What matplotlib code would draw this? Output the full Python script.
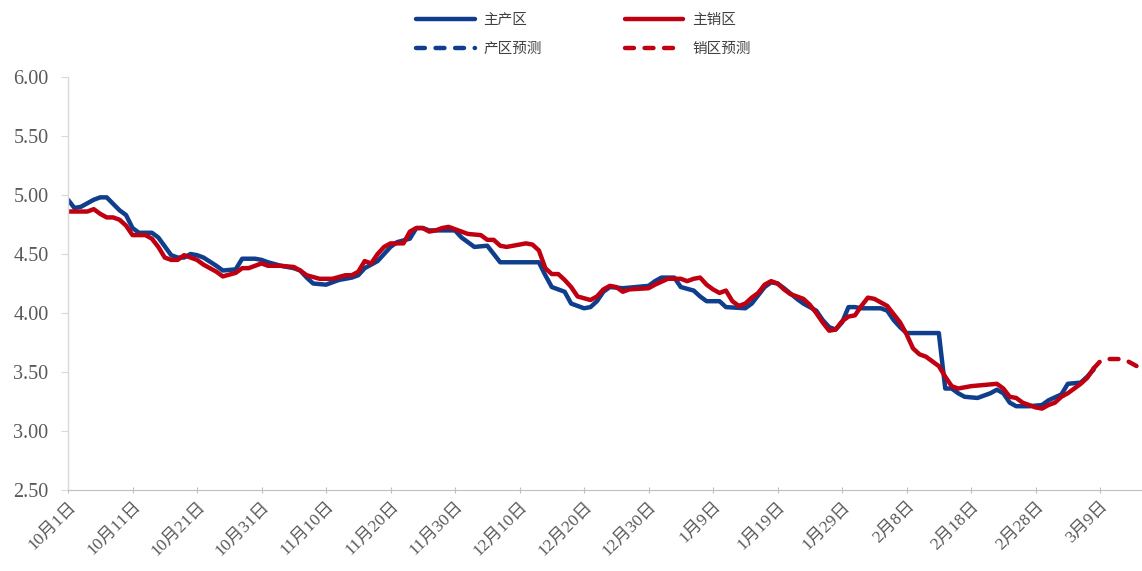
import matplotlib
matplotlib.use("Agg")
import matplotlib.pyplot as plt
import pandas as pd
import numpy as np

plt.rcParams['font.family'] = ['Liberation Serif', 'Noto Sans CJK SC', 'DejaVu Sans']

start = pd.Timestamp("2023-10-01")

# 主产区 (day offset from 2023-10-01, price)
prod_days = [0, 1, 2, 4, 5, 6, 8, 9, 10, 11, 13, 14, 16, 17, 18, 19, 20, 21, 23, 24,
             26, 27, 29, 30, 31, 33, 35, 36, 37, 38, 40, 42, 44, 45, 46, 48, 49, 50, 51, 53,
             54, 55, 56, 60, 61, 62, 63, 65, 66, 67, 73, 74, 75, 77, 78, 80, 81, 82, 83, 84,
             86, 90, 91, 92, 94, 95, 97, 98, 99, 101, 102, 105, 106, 107, 108, 109, 110, 111, 113, 114,
             116, 117, 118, 119, 120, 121, 122, 123, 126, 127, 128, 129, 130, 135, 136, 137, 138, 139, 141, 143,
             144, 145, 146, 147, 149, 151, 152, 154, 155, 157, 158, 159]
prod_vals = [4.96, 4.89, 4.90, 4.96, 4.98, 4.98, 4.87, 4.83, 4.72, 4.68, 4.68, 4.64, 4.49, 4.47, 4.47, 4.50, 4.49, 4.47, 4.40, 4.36,
             4.37, 4.46, 4.46, 4.45, 4.43, 4.40, 4.38, 4.36, 4.30, 4.25, 4.24, 4.28, 4.30, 4.32, 4.38, 4.44, 4.50, 4.56, 4.60, 4.63,
             4.72, 4.72, 4.70, 4.70, 4.64, 4.60, 4.56, 4.57, 4.50, 4.43, 4.43, 4.32, 4.22, 4.18, 4.08, 4.04, 4.05, 4.10, 4.18, 4.22,
             4.21, 4.23, 4.27, 4.30, 4.30, 4.22, 4.19, 4.14, 4.10, 4.10, 4.05, 4.04, 4.08, 4.15, 4.22, 4.26, 4.25, 4.21, 4.12, 4.08,
             4.02, 3.94, 3.88, 3.86, 3.92, 4.05, 4.05, 4.04, 4.04, 4.02, 3.94, 3.88, 3.83, 3.83, 3.36, 3.36, 3.32, 3.29, 3.28, 3.32,
             3.35, 3.32, 3.24, 3.21, 3.21, 3.22, 3.26, 3.31, 3.40, 3.41, 3.46, 3.52]

# 主销区
cons_days = [0, 3, 4, 5, 6, 7, 8, 9, 10, 12, 13, 14, 15, 16, 17, 18, 19, 20, 21, 23,
             24, 26, 27, 28, 29, 30, 31, 33, 35, 36, 37, 39, 41, 43, 44, 45, 46, 47, 48, 49,
             50, 52, 53, 54, 55, 56, 57, 58, 59, 60, 62, 64, 65, 66, 67, 68, 69, 71, 72, 73,
             74, 75, 76, 77, 78, 79, 81, 82, 83, 84, 85, 86, 87, 90, 91, 93, 95, 96, 97, 98,
             99, 100, 101, 102, 103, 104, 105, 106, 107, 108, 109, 110, 111, 112, 114, 115, 116, 117, 118, 119,
             120, 121, 122, 123, 124, 125, 126, 127, 128, 129, 130, 131, 132, 133, 134, 135, 136, 137, 138, 140,
             142, 144, 145, 146, 147, 148, 150, 151, 152, 153, 154, 155, 156, 157, 158, 159]
cons_vals = [4.86, 4.86, 4.88, 4.84, 4.81, 4.81, 4.79, 4.74, 4.66, 4.66, 4.63, 4.56, 4.47, 4.45, 4.45, 4.49, 4.47, 4.45, 4.41, 4.35,
             4.31, 4.34, 4.38, 4.38, 4.40, 4.42, 4.40, 4.40, 4.39, 4.36, 4.32, 4.29, 4.29, 4.32, 4.32, 4.35, 4.44, 4.42, 4.50, 4.56,
             4.59, 4.59, 4.69, 4.72, 4.72, 4.69, 4.70, 4.72, 4.73, 4.71, 4.67, 4.66, 4.62, 4.62, 4.57, 4.56, 4.57, 4.59, 4.58, 4.53,
             4.38, 4.33, 4.33, 4.28, 4.22, 4.14, 4.11, 4.14, 4.20, 4.23, 4.22, 4.18, 4.20, 4.21, 4.24, 4.29, 4.29, 4.27, 4.29, 4.30,
             4.24, 4.20, 4.17, 4.19, 4.10, 4.06, 4.08, 4.13, 4.17, 4.24, 4.27, 4.25, 4.20, 4.16, 4.12, 4.07, 4.00, 3.92, 3.85, 3.86,
             3.93, 3.97, 3.98, 4.06, 4.13, 4.12, 4.09, 4.06, 3.99, 3.92, 3.82, 3.70, 3.65, 3.63, 3.59, 3.55, 3.46, 3.38, 3.36, 3.38,
             3.39, 3.40, 3.36, 3.29, 3.28, 3.24, 3.20, 3.19, 3.22, 3.24, 3.29, 3.32, 3.36, 3.40, 3.45, 3.53]

# 产区预测 (not visible in the chart)
prod_fc_days = []
prod_fc_vals = []

# 销区预测
cons_fc_days = [159, 160, 161, 162, 163, 164, 165, 166]
cons_fc_vals = [3.53, 3.59, 3.61, 3.61, 3.61, 3.60, 3.57, 3.54]

tick_days = list(range(0, 161, 10))
tick_labels = ["10月1日", "10月11日", "10月21日", "10月31日", "11月10日", "11月20日",
               "11月30日", "12月10日", "12月20日", "12月30日", "1月9日", "1月19日",
               "1月29日", "2月8日", "2月18日", "2月28日", "3月9日"]

def to_dates(days):
    return [start + pd.Timedelta(days=d) for d in days]

blue = '#0E3E8C'
red = '#C00010'
dash = (0, (2.0, 2.4))

fig = plt.figure(figsize=(11.42, 5.71), dpi=100)
ax = fig.add_axes([68 / 1142, 81 / 571, 1074 / 1142, 413 / 571])

l1, = ax.plot(to_dates(prod_days), prod_vals, color=blue, lw=3.2, solid_capstyle='round', solid_joinstyle='round')
l2, = ax.plot(to_dates(cons_days), cons_vals, color=red, lw=3.2, solid_capstyle='round', solid_joinstyle='round')
l3, = ax.plot(to_dates(prod_fc_days), prod_fc_vals, color=blue, lw=3.2, ls=dash, dash_capstyle='round')
l4, = ax.plot(to_dates(cons_fc_days), cons_fc_vals, color=red, lw=3.2, ls=dash, dash_capstyle='round')

ax.set_ylim(2.5, 6.0)
ax.set_yticks(np.arange(2.5, 6.01, 0.5))
ax.set_yticklabels([f"{v:.2f}" for v in np.arange(2.5, 6.01, 0.5)])
ax.set_xlim(start, start + pd.Timedelta(days=166.5))
ax.set_xticks(to_dates(tick_days))
ax.set_xticklabels(tick_labels, rotation=45, ha='right', va='top', rotation_mode='anchor')

for s in ['top', 'right']:
    ax.spines[s].set_visible(False)
ax.spines['left'].set_color('#D9D9D9')
ax.spines['left'].set_linewidth(1.0)
ax.spines['bottom'].set_color('#BFBFBF')
ax.spines['bottom'].set_linestyle((0, (1, 1)))
ax.spines['bottom'].set_linewidth(0.8)

ax.tick_params(axis='y', direction='out', length=5, color='#D9D9D9', labelsize=14.5, labelcolor='#595959', pad=9)
ax.tick_params(axis='x', direction='inout', length=4, color='#BFBFBF', labelsize=12.5, labelcolor='#595959', pad=4)

leg = fig.legend([l1, l3, l2, l4], ["主产区", "产区预测", "主销区", "销区预测"],
                 ncol=2, loc='upper center', bbox_to_anchor=(0.511, 1.0), frameon=False,
                 handlelength=4.0, columnspacing=5.7, handletextpad=0.6, labelspacing=1.0,
                 prop={'family': ['Noto Sans CJK SC'], 'size': 10.5})
for t in leg.get_texts():
    t.set_color('#404040')

fig.savefig("out.png", dpi=100)
